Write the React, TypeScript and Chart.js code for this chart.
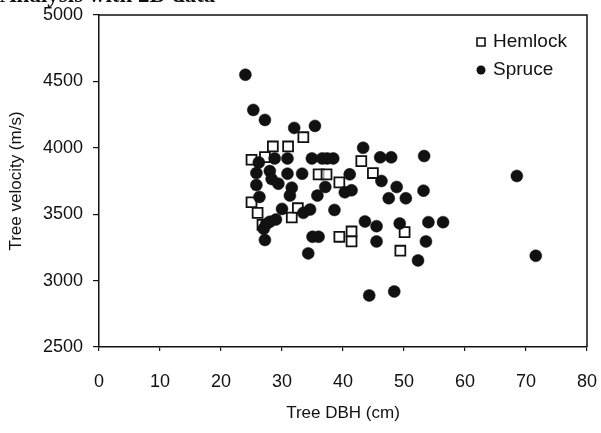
import React, { useEffect, useRef } from "react";
import { Chart, registerables } from "chart.js";

Chart.register(...registerables);

const xTicks = [0, 10, 20, 30, 40, 50, 60, 70, 80];
const yTicks = [2500, 3000, 3500, 4000, 4500, 5000];

const hemlockDBH = [25.0, 27.2, 28.5, 31.0, 33.5, 36.0, 37.3, 39.4, 43.0, 44.9, 25.0, 26.0, 32.6, 31.6, 26.8, 39.4, 41.4, 41.4, 50.1, 49.4];
const hemlockVelocity = [3910, 3930, 4010, 4010, 4080, 3800, 3800, 3740, 3900, 3810, 3590, 3510, 3545, 3475, 3420, 3330, 3370, 3295, 3365, 3225];

const spruceDBH = [
  24.0, 25.3, 27.2, 32.0, 35.4, 43.3,
  26.2, 28.8, 30.9, 34.9, 36.6, 37.4, 38.4, 46.1, 47.9, 53.3,
  25.8, 28.0, 30.9, 33.3, 41.1,
  46.3, 48.8, 28.3, 68.5,
  25.8, 29.4, 31.6, 37.1, 40.3, 41.4, 53.2,
  26.3, 31.3, 35.8, 47.5, 50.3,
  30.0, 34.6, 38.6, 33.5,
  29.0, 28.0, 27.4, 27.0, 27.2, 43.6, 45.5, 49.3, 54.0, 56.4,
  35.0, 36.0, 45.5, 53.6,
  34.3, 52.3, 71.6,
  44.3, 48.4,
];
const spruceVelocity = [
  4550, 4285, 4210, 4150, 4165, 4000,
  3890, 3920, 3920, 3920, 3920, 3920, 3920, 3928, 3928, 3938,
  3810, 3825, 3805, 3805, 3800,
  3750, 3705, 3765, 3788,
  3720, 3730, 3700, 3705, 3665, 3680, 3677,
  3630, 3640, 3640, 3620, 3620,
  3540, 3535, 3532, 3510,
  3460, 3443, 3425, 3390, 3306, 3445, 3410, 3430, 3440, 3440,
  3330, 3330, 3295, 3295,
  3205, 3152, 3187,
  2888, 2918,
];

const caption = "Analysis with 2D data";
const xTitle = "Tree DBH (cm)";
const yTitle = "Tree velocity (m/s)";
const seriesNames = ["Hemlock", "Spruce"];

const INK = "#111111";
const FONT = "'Liberation Sans', Arial, sans-serif";

const framePlugin = {
  id: "frameAndLegend",
  afterDraw(chart: any) {
    const { ctx, chartArea } = chart;
    ctx.save();
    ctx.strokeStyle = INK;
    ctx.lineWidth = 1.5;
    ctx.beginPath();
    ctx.moveTo(chartArea.left, chartArea.top);
    ctx.lineTo(chartArea.right, chartArea.top);
    ctx.lineTo(chartArea.right, chartArea.bottom);
    ctx.stroke();

    // legend
    const lx = chartArea.right - 106;
    const ly1 = chartArea.top + 27;
    const ly2 = chartArea.top + 55;
    ctx.lineWidth = 1.6;
    ctx.strokeStyle = INK;
    ctx.fillStyle = "#ffffff";
    ctx.beginPath();
    ctx.rect(lx - 4, ly1 - 4, 8, 8);
    ctx.fill();
    ctx.stroke();
    ctx.fillStyle = INK;
    ctx.beginPath();
    ctx.arc(lx, ly2, 4.5, 0, Math.PI * 2);
    ctx.fill();
    ctx.font = "19px " + FONT;
    ctx.textBaseline = "middle";
    ctx.textAlign = "left";
    ctx.fillText(seriesNames[0], lx + 12, ly1);
    ctx.fillText(seriesNames[1], lx + 12, ly2);

    // clipped caption at the very top
    ctx.font = "bold 23px 'Liberation Serif', serif";
    ctx.textBaseline = "alphabetic";
    ctx.fillText(caption, 0, 2);
    ctx.restore();
  },
};

export default function App() {
  const ref = useRef<HTMLCanvasElement | null>(null);

  useEffect(() => {
    document.body.style.margin = "0";
    const canvas = ref.current;
    if (!canvas) return;
    const hemlock = hemlockDBH.map((x, i) => ({ x, y: hemlockVelocity[i] }));
    const spruce = spruceDBH.map((x, i) => ({ x, y: spruceVelocity[i] }));
    const chart = new Chart(canvas, {
      type: "scatter",
      data: {
        datasets: [
          {
            label: seriesNames[1],
            data: spruce,
            pointStyle: "circle",
            pointRadius: 6,
            pointHoverRadius: 6,
            backgroundColor: INK,
            borderColor: INK,
            borderWidth: 0.5,
          },
          {
            label: seriesNames[0],
            data: hemlock,
            pointStyle: "rect",
            pointRadius: 7,
            pointHoverRadius: 7,
            backgroundColor: "rgba(255,255,255,0.6)",
            borderColor: INK,
            borderWidth: 1.8,
          },
        ],
      },
      options: {
        animation: false,
        responsive: false,
        maintainAspectRatio: false,
        layout: { padding: { top: 15, right: 14, left: 0, bottom: 0 } },
        plugins: { legend: { display: false }, tooltip: { enabled: false } },
        scales: {
          x: {
            type: "linear",
            min: 0,
            max: 80,
            afterFit: (s: any) => {
              s.height = 86;
              s.paddingLeft = 0;
              s.paddingRight = 0;
            },
            afterBuildTicks: (s: any) => {
              s.ticks = xTicks.map((v) => ({ value: v }));
            },
            ticks: {
              color: INK,
              font: { size: 18, family: FONT },
              padding: 20,
              maxRotation: 0,
              callback: (v: any) => String(v),
            },
            grid: { display: true, drawOnChartArea: false, drawTicks: true, tickLength: 4, color: INK, lineWidth: 1.2 },
            border: { display: true, color: INK, width: 1.5 },
            title: {
              display: true,
              text: xTitle,
              color: INK,
              font: { size: 17, family: FONT },
              padding: { top: 0, bottom: 9 },
            },
          },
          y: {
            type: "linear",
            min: 2500,
            max: 5000,
            afterFit: (s: any) => {
              s.width = 99;
              s.paddingTop = 0;
              s.paddingBottom = 0;
            },
            afterBuildTicks: (s: any) => {
              s.ticks = yTicks.map((v) => ({ value: v }));
            },
            ticks: {
              color: INK,
              font: { size: 18, family: FONT },
              padding: 10,
              callback: (v: any) => String(v),
            },
            grid: { display: true, drawOnChartArea: false, drawTicks: true, tickLength: 6, color: INK, lineWidth: 1.2 },
            border: { display: true, color: INK, width: 1.5 },
            title: {
              display: true,
              text: yTitle,
              color: INK,
              font: { size: 17, family: FONT },
              padding: { top: 6, bottom: 0 },
            },
          },
        },
      },
      plugins: [framePlugin],
    });
    return () => chart.destroy();
  }, []);

  return (
    <div style={{ width: 601, height: 433, background: "#ffffff" }}>
      <canvas ref={ref} width={601} height={433} style={{ display: "block" }} />
    </div>
  );
}
